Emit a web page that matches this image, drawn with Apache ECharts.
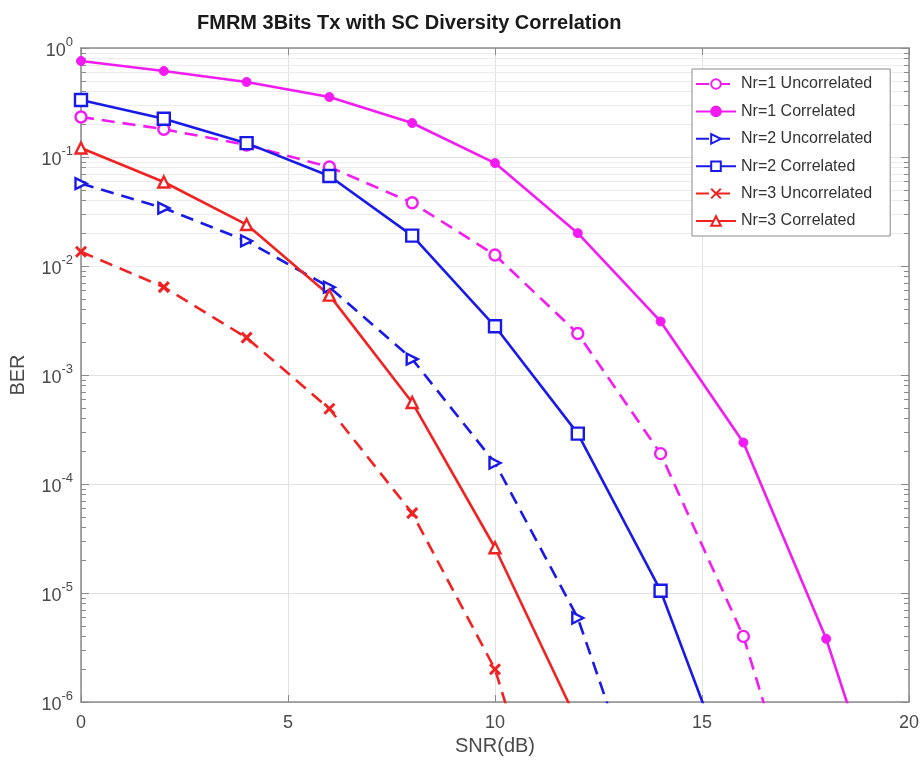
<!DOCTYPE html>
<html><head><meta charset="utf-8">
<script src="https://cdn.jsdelivr.net/npm/echarts@6/dist/echarts.min.js"></script>
<style>html,body{margin:0;padding:0;background:#fff}#c{width:922px;height:764px}</style>
</head><body><div id="c"></div>
<script>
const titleText = 'FMRM 3Bits Tx with SC Diversity Correlation';
const xName = 'SNR(dB)';
const yName = 'BER';
const snr = [0, 2, 4, 6, 8, 10, 12, 14, 16, 18, 20];
const xTicks = [0, 5, 10, 15, 20];
const seriesNames = ['Nr=1 Uncorrelated', 'Nr=1 Correlated', 'Nr=2 Uncorrelated', 'Nr=2 Correlated', 'Nr=3 Uncorrelated', 'Nr=3 Correlated'];
const nr1Uncorrelated = [0.233, 0.18, 0.129, 0.081, 0.038, 0.0126, 0.0024, 1.9e-4, 4.0e-6, 1.3e-8];
const nr1Correlated   = [0.76, 0.615, 0.488, 0.355, 0.205, 0.088, 0.020, 3.1e-3, 2.4e-4, 3.8e-6, 1.8e-8];
const nr2Uncorrelated = [0.057, 0.034, 0.017, 0.0064, 0.0014, 1.56e-4, 5.9e-6, 3.7e-8];
const nr2Correlated   = [0.333, 0.224, 0.134, 0.067, 0.019, 0.0028, 2.9e-4, 1.05e-5, 1.0e-7];
const nr3Uncorrelated = [0.0135, 0.0064, 0.0022, 4.9e-4, 5.4e-5, 2.0e-6, 6.8e-9];
const nr3Correlated   = [0.121, 0.059, 0.024, 0.0054, 5.6e-4, 2.6e-5, 6.5e-7];
const yDecades = [-6, -5, -4, -3, -2, -1, 0];
const minorFactors = [2, 3, 4, 5, 6, 7, 8, 9];

const MAG = '#f21cf2', BLU = '#1a1ae8', RED = '#f02222';
const FONT = 'Liberation Sans';
const AX = '#8a8a8a', LAB = '#4a4a4a';

function pairs(vals) { return vals.map((v, i) => [snr[i], v]); }

const minorVals = [];
yDecades.slice(0, -1).forEach(d => minorFactors.forEach(f => minorVals.push(f * Math.pow(10, d))));

const minorGrid = minorVals.map(v => ({ yAxis: v }));
const minorTicks = [];
minorVals.forEach(v => {
  minorTicks.push([{ coord: [0, v] }, { coord: [0.12, v] }]);
  minorTicks.push([{ coord: [19.88, v] }, { coord: [20, v] }]);
});

const dash = [13, 8];
function mk(name, vals, color, symbol, size, filled, dashed, extra) {
  return Object.assign({
    name, type: 'line', data: pairs(vals), clip: true, z: 2,
    symbol, symbolSize: size, showAllSymbol: true,
    lineStyle: { color, width: 2.6, type: dashed ? dash : 'solid' },
    itemStyle: { color: filled ? color : '#ffffff', borderColor: color, borderWidth: filled ? 1 : 2.4 },
    emphasis: { disabled: true }, animation: false
  }, extra || {});
}

const series = [
  { name: '_grid', type: 'line', data: [], z: 0, silent: true, animation: false,
    markLine: { z: 0, silent: true, symbol: 'none', animation: false, label: { show: false },
      lineStyle: { color: '#ececec', width: 1, type: 'solid' }, data: minorGrid } },
  { name: '_ticks', type: 'line', data: [], z: 1, silent: true, animation: false,
    markLine: { z: 1, silent: true, symbol: 'none', animation: false, label: { show: false },
      lineStyle: { color: AX, width: 1, type: 'solid' }, data: minorTicks } },
  mk(seriesNames[0], nr1Uncorrelated, MAG, 'circle', 11, false, true),
  mk(seriesNames[1], nr1Correlated, MAG, 'circle', 9, true, false),
  mk(seriesNames[2], nr2Uncorrelated, BLU, 'triangle', 11, false, true, { symbolRotate: -90 }),
  mk(seriesNames[3], nr2Correlated, BLU, 'rect', 12, false, false),
  mk(seriesNames[4], nr3Uncorrelated, RED, 'path://M0,0L10,10M10,0L0,10', 10, true, true),
  mk(seriesNames[5], nr3Correlated, RED, 'triangle', 11, false, false)
];
series[6].itemStyle = { color: RED, borderColor: RED, borderWidth: 3 };

const yLabel = {
  show: true, margin: 8,
  formatter: v => '{b|10}{s|' + Math.round(Math.log10(v)) + '}',
  rich: {
    b: { fontSize: 18, fontFamily: FONT, color: LAB, verticalAlign: 'bottom', lineHeight: 24 },
    s: { fontSize: 13, fontFamily: FONT, color: LAB, verticalAlign: 'top', lineHeight: 15 }
  }
};

const option = {
  backgroundColor: '#ffffff',
  animation: false,
  title: { text: titleText, left: 192, top: 8,
    textStyle: { fontFamily: FONT, fontSize: 20, fontWeight: 'bold', color: '#1a1a1a' } },
  grid: { left: 80, right: 13, top: 48, bottom: 62, containLabel: false },
  legend: {
    data: seriesNames, orient: 'vertical', left: 692, top: 69, z: 10,
    backgroundColor: '#ffffff', borderColor: '#8a8a8a', borderWidth: 1,
    padding: [6, 18, 6, 3], itemWidth: 40, itemHeight: 12, itemGap: 9.4,
    textStyle: { fontFamily: FONT, fontSize: 16, color: '#333', lineHeight: 18 }
  },
  xAxis: [
    { type: 'value', min: 0, max: 20, interval: 5, position: 'bottom',
      name: xName, nameLocation: 'middle', nameGap: 32,
      nameTextStyle: { fontFamily: FONT, fontSize: 20, color: LAB },
      axisLine: { show: true, onZero: false, lineStyle: { color: AX, width: 1.5 } },
      axisTick: { show: true, inside: true, length: 7, lineStyle: { color: AX } },
      axisLabel: { fontFamily: FONT, fontSize: 18, color: LAB, margin: 12 },
      splitLine: { show: true, lineStyle: { color: '#e2e2e2', width: 1 } } },
    { type: 'value', min: 0, max: 20, interval: 5, position: 'top',
      axisLine: { show: true, onZero: false, lineStyle: { color: AX, width: 1.5 } },
      axisTick: { show: true, inside: true, length: 7, lineStyle: { color: AX } },
      axisLabel: { show: false }, splitLine: { show: false } }
  ],
  yAxis: [
    { type: 'log', logBase: 10, min: 1e-6, max: 1, interval: 1, position: 'left',
      name: yName, nameLocation: 'middle', nameGap: 53, nameRotate: 90,
      nameTextStyle: { fontFamily: FONT, fontSize: 20, color: LAB },
      axisLine: { show: true, onZero: false, lineStyle: { color: AX, width: 1.5 } },
      axisTick: { show: true, inside: true, length: 8, lineStyle: { color: AX } },
      axisLabel: yLabel,
      splitLine: { show: true, lineStyle: { color: '#e2e2e2', width: 1 } },
      minorTick: { show: false }, minorSplitLine: { show: false } },
    { type: 'log', logBase: 10, min: 1e-6, max: 1, interval: 1, position: 'right',
      axisLine: { show: true, onZero: false, lineStyle: { color: AX, width: 1.5 } },
      axisTick: { show: true, inside: true, length: 8, lineStyle: { color: AX } },
      axisLabel: { show: false }, splitLine: { show: false } }
  ],
  series
};

const chart = echarts.init(document.getElementById('c'), null, { renderer: 'canvas' });
chart.setOption(option);
</script>
</body></html>
